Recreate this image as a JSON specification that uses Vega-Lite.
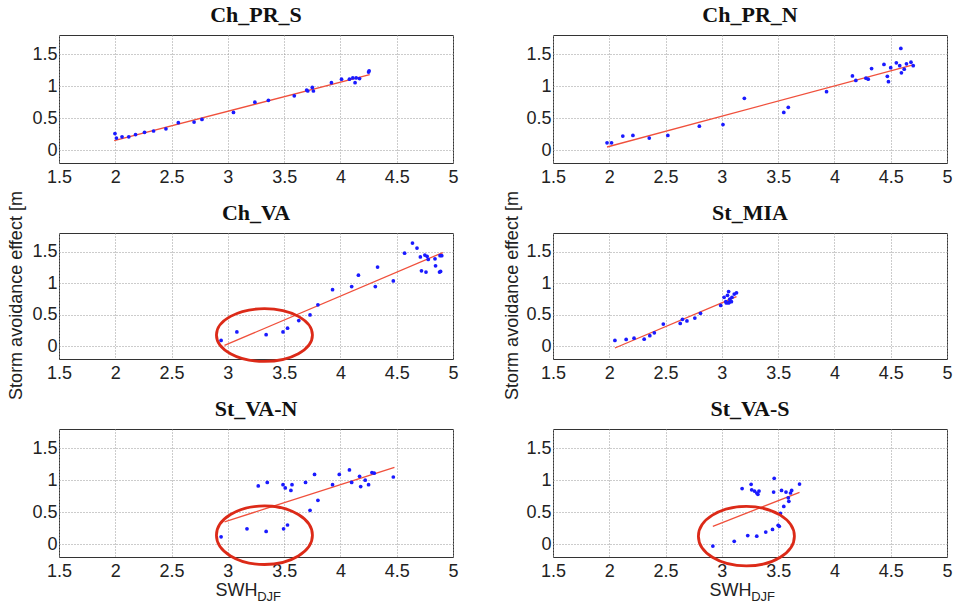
{
 "$schema": "https://vega.github.io/schema/vega-lite/v6.json",
 "background": "white",
 "padding": {"left": 6, "top": 3, "right": 4, "bottom": 2},
 "datasets": {
  "pts": [
   {"panel":"Ch_PR_S","x":1.997,"y":0.26},{"panel":"Ch_PR_S","x":2.01,"y":0.19},{"panel":"Ch_PR_S","x":2.06,"y":0.21},{"panel":"Ch_PR_S","x":2.12,"y":0.21},{"panel":"Ch_PR_S","x":2.18,"y":0.245},{"panel":"Ch_PR_S","x":2.26,"y":0.28},{"panel":"Ch_PR_S","x":2.34,"y":0.3},{"panel":"Ch_PR_S","x":2.45,"y":0.335},{"panel":"Ch_PR_S","x":2.56,"y":0.43},{"panel":"Ch_PR_S","x":2.7,"y":0.44},{"panel":"Ch_PR_S","x":2.77,"y":0.48},{"panel":"Ch_PR_S","x":3.05,"y":0.59},{"panel":"Ch_PR_S","x":3.24,"y":0.75},{"panel":"Ch_PR_S","x":3.36,"y":0.78},{"panel":"Ch_PR_S","x":3.59,"y":0.85},{"panel":"Ch_PR_S","x":3.7,"y":0.94},{"panel":"Ch_PR_S","x":3.71,"y":0.925},{"panel":"Ch_PR_S","x":3.75,"y":0.98},{"panel":"Ch_PR_S","x":3.76,"y":0.925},{"panel":"Ch_PR_S","x":3.92,"y":1.055},{"panel":"Ch_PR_S","x":4.01,"y":1.11},{"panel":"Ch_PR_S","x":4.08,"y":1.11},{"panel":"Ch_PR_S","x":4.11,"y":1.13},{"panel":"Ch_PR_S","x":4.13,"y":1.055},{"panel":"Ch_PR_S","x":4.14,"y":1.13},{"panel":"Ch_PR_S","x":4.17,"y":1.12},{"panel":"Ch_PR_S","x":4.25,"y":1.22},{"panel":"Ch_PR_S","x":4.255,"y":1.24},
   {"panel":"Ch_PR_N","x":1.98,"y":0.115},{"panel":"Ch_PR_N","x":2.02,"y":0.115},{"panel":"Ch_PR_N","x":2.12,"y":0.22},{"panel":"Ch_PR_N","x":2.21,"y":0.23},{"panel":"Ch_PR_N","x":2.355,"y":0.19},{"panel":"Ch_PR_N","x":2.52,"y":0.23},{"panel":"Ch_PR_N","x":2.8,"y":0.375},{"panel":"Ch_PR_N","x":3.01,"y":0.4},{"panel":"Ch_PR_N","x":3.2,"y":0.81},{"panel":"Ch_PR_N","x":3.55,"y":0.59},{"panel":"Ch_PR_N","x":3.59,"y":0.67},{"panel":"Ch_PR_N","x":3.93,"y":0.915},{"panel":"Ch_PR_N","x":4.16,"y":1.16},{"panel":"Ch_PR_N","x":4.19,"y":1.09},{"panel":"Ch_PR_N","x":4.28,"y":1.125},{"panel":"Ch_PR_N","x":4.3,"y":1.11},{"panel":"Ch_PR_N","x":4.33,"y":1.275},{"panel":"Ch_PR_N","x":4.44,"y":1.34},{"panel":"Ch_PR_N","x":4.47,"y":1.155},{"panel":"Ch_PR_N","x":4.48,"y":1.07},{"panel":"Ch_PR_N","x":4.5,"y":1.29},{"panel":"Ch_PR_N","x":4.55,"y":1.365},{"panel":"Ch_PR_N","x":4.58,"y":1.32},{"panel":"Ch_PR_N","x":4.59,"y":1.59},{"panel":"Ch_PR_N","x":4.595,"y":1.21},{"panel":"Ch_PR_N","x":4.62,"y":1.265},{"panel":"Ch_PR_N","x":4.64,"y":1.35},{"panel":"Ch_PR_N","x":4.68,"y":1.375},{"panel":"Ch_PR_N","x":4.7,"y":1.32},
   {"panel":"Ch_VA","x":2.94,"y":0.095},{"panel":"Ch_VA","x":3.08,"y":0.23},{"panel":"Ch_VA","x":3.34,"y":0.185},{"panel":"Ch_VA","x":3.49,"y":0.23},{"panel":"Ch_VA","x":3.53,"y":0.29},{"panel":"Ch_VA","x":3.63,"y":0.41},{"panel":"Ch_VA","x":3.73,"y":0.5},{"panel":"Ch_VA","x":3.8,"y":0.66},{"panel":"Ch_VA","x":3.93,"y":0.9},{"panel":"Ch_VA","x":4.1,"y":0.95},{"panel":"Ch_VA","x":4.16,"y":1.13},{"panel":"Ch_VA","x":4.31,"y":0.95},{"panel":"Ch_VA","x":4.33,"y":1.26},{"panel":"Ch_VA","x":4.47,"y":1.04},{"panel":"Ch_VA","x":4.57,"y":1.48},{"panel":"Ch_VA","x":4.64,"y":1.64},{"panel":"Ch_VA","x":4.68,"y":1.56},{"panel":"Ch_VA","x":4.71,"y":1.42},{"panel":"Ch_VA","x":4.72,"y":1.2},{"panel":"Ch_VA","x":4.75,"y":1.45},{"panel":"Ch_VA","x":4.76,"y":1.18},{"panel":"Ch_VA","x":4.77,"y":1.43},{"panel":"Ch_VA","x":4.78,"y":1.38},{"panel":"Ch_VA","x":4.84,"y":1.39},{"panel":"Ch_VA","x":4.845,"y":1.28},{"panel":"Ch_VA","x":4.88,"y":1.18},{"panel":"Ch_VA","x":4.885,"y":1.44},{"panel":"Ch_VA","x":4.9,"y":1.44},{"panel":"Ch_VA","x":4.89,"y":1.19},
   {"panel":"St_MIA","x":2.05,"y":0.095},{"panel":"St_MIA","x":2.15,"y":0.11},{"panel":"St_MIA","x":2.22,"y":0.13},{"panel":"St_MIA","x":2.31,"y":0.115},{"panel":"St_MIA","x":2.36,"y":0.17},{"panel":"St_MIA","x":2.4,"y":0.215},{"panel":"St_MIA","x":2.48,"y":0.355},{"panel":"St_MIA","x":2.63,"y":0.365},{"panel":"St_MIA","x":2.65,"y":0.43},{"panel":"St_MIA","x":2.69,"y":0.405},{"panel":"St_MIA","x":2.76,"y":0.45},{"panel":"St_MIA","x":2.81,"y":0.525},{"panel":"St_MIA","x":2.99,"y":0.65},{"panel":"St_MIA","x":3.02,"y":0.78},{"panel":"St_MIA","x":3.035,"y":0.71},{"panel":"St_MIA","x":3.04,"y":0.69},{"panel":"St_MIA","x":3.05,"y":0.81},{"panel":"St_MIA","x":3.06,"y":0.87},{"panel":"St_MIA","x":3.065,"y":0.7},{"panel":"St_MIA","x":3.07,"y":0.75},{"panel":"St_MIA","x":3.085,"y":0.71},{"panel":"St_MIA","x":3.09,"y":0.78},{"panel":"St_MIA","x":3.11,"y":0.83},{"panel":"St_MIA","x":3.13,"y":0.85},{"panel":"St_MIA","x":3.06,"y":0.69},
   {"panel":"St_VA-N","x":2.94,"y":0.115},{"panel":"St_VA-N","x":3.17,"y":0.24},{"panel":"St_VA-N","x":3.27,"y":0.91},{"panel":"St_VA-N","x":3.34,"y":0.2},{"panel":"St_VA-N","x":3.35,"y":0.965},{"panel":"St_VA-N","x":3.49,"y":0.93},{"panel":"St_VA-N","x":3.495,"y":0.24},{"panel":"St_VA-N","x":3.51,"y":0.88},{"panel":"St_VA-N","x":3.53,"y":0.3},{"panel":"St_VA-N","x":3.56,"y":0.84},{"panel":"St_VA-N","x":3.57,"y":0.93},{"panel":"St_VA-N","x":3.69,"y":0.965},{"panel":"St_VA-N","x":3.73,"y":0.53},{"panel":"St_VA-N","x":3.77,"y":1.09},{"panel":"St_VA-N","x":3.8,"y":0.685},{"panel":"St_VA-N","x":3.93,"y":0.93},{"panel":"St_VA-N","x":3.99,"y":1.09},{"panel":"St_VA-N","x":4.08,"y":1.16},{"panel":"St_VA-N","x":4.1,"y":0.965},{"panel":"St_VA-N","x":4.17,"y":1.06},{"panel":"St_VA-N","x":4.18,"y":0.9},{"panel":"St_VA-N","x":4.22,"y":1.0},{"panel":"St_VA-N","x":4.25,"y":0.93},{"panel":"St_VA-N","x":4.28,"y":1.12},{"panel":"St_VA-N","x":4.3,"y":1.11},{"panel":"St_VA-N","x":4.47,"y":1.05},
   {"panel":"St_VA-S","x":2.92,"y":-0.03},{"panel":"St_VA-S","x":3.11,"y":0.045},{"panel":"St_VA-S","x":3.18,"y":0.87},{"panel":"St_VA-S","x":3.23,"y":0.135},{"panel":"St_VA-S","x":3.26,"y":0.935},{"panel":"St_VA-S","x":3.265,"y":0.85},{"panel":"St_VA-S","x":3.29,"y":0.83},{"panel":"St_VA-S","x":3.31,"y":0.125},{"panel":"St_VA-S","x":3.31,"y":0.8},{"panel":"St_VA-S","x":3.33,"y":0.83},{"panel":"St_VA-S","x":3.32,"y":0.78},{"panel":"St_VA-S","x":3.39,"y":0.19},{"panel":"St_VA-S","x":3.45,"y":0.23},{"panel":"St_VA-S","x":3.46,"y":0.815},{"panel":"St_VA-S","x":3.465,"y":1.03},{"panel":"St_VA-S","x":3.5,"y":0.295},{"panel":"St_VA-S","x":3.51,"y":0.28},{"panel":"St_VA-S","x":3.52,"y":0.48},{"panel":"St_VA-S","x":3.53,"y":0.84},{"panel":"St_VA-S","x":3.55,"y":0.59},{"panel":"St_VA-S","x":3.57,"y":0.815},{"panel":"St_VA-S","x":3.59,"y":0.725},{"panel":"St_VA-S","x":3.595,"y":0.67},{"panel":"St_VA-S","x":3.61,"y":0.8},{"panel":"St_VA-S","x":3.62,"y":0.84},{"panel":"St_VA-S","x":3.69,"y":0.94}
  ],
  "fit": [
   {"panel":"Ch_PR_S","x":1.99,"y":0.15},{"panel":"Ch_PR_S","x":4.26,"y":1.18},
   {"panel":"Ch_PR_N","x":1.98,"y":0.05},{"panel":"Ch_PR_N","x":4.69,"y":1.33},
   {"panel":"Ch_VA","x":2.97,"y":0.015},{"panel":"Ch_VA","x":4.91,"y":1.49},
   {"panel":"St_MIA","x":2.05,"y":-0.025},{"panel":"St_MIA","x":3.13,"y":0.79},
   {"panel":"St_VA-N","x":2.97,"y":0.35},{"panel":"St_VA-N","x":4.48,"y":1.2},
   {"panel":"St_VA-S","x":2.92,"y":0.28},{"panel":"St_VA-S","x":3.69,"y":0.81}
  ],
  "ell": [
   {"panel":"Ch_VA","x":3.325,"y":0.18},
   {"panel":"St_VA-N","x":3.325,"y":0.14},
   {"panel":"St_VA-S","x":3.218,"y":0.125}
  ]
 },
 "columns": 2,
 "spacing": {"row": 70, "column": 100},
 "bounds": "flush",
 "concat": [
  {"width":394,"height":128,"title":"Ch_PR_S","layer":[
   {"data":{"name":"fit"},"transform":[{"filter":"datum.panel==='Ch_PR_S'"}],"mark":{"type":"line","color":"#f0503c","strokeWidth":1.3},
    "encoding":{"x":{"field":"x","type":"quantitative","scale":{"domain":[1.5,5],"nice":false,"zero":false},"axis":{"values":[1.5,2,2.5,3,3.5,4,4.5,5],"format":"~g","title":null}},
                "y":{"field":"y","type":"quantitative","scale":{"domain":[-0.2,1.8],"nice":false,"zero":false},"axis":{"values":[0,0.5,1,1.5],"format":"~g","title":"Storm avoidance effect [m","titleX":-38,"titleY":260,"titleAlign":"center","titleBaseline":"alphabetic","titleAngle":-90}}}},
   {"data":{"name":"pts"},"transform":[{"filter":"datum.panel==='Ch_PR_S'"}],"mark":{"type":"point","filled":true,"size":14,"color":"#1a1aff","opacity":1},
    "encoding":{"x":{"field":"x","type":"quantitative"},"y":{"field":"y","type":"quantitative"}}}
  ]},
  {"width":394,"height":128,"title":"Ch_PR_N","layer":[
   {"data":{"name":"fit"},"transform":[{"filter":"datum.panel==='Ch_PR_N'"}],"mark":{"type":"line","color":"#f0503c","strokeWidth":1.3},
    "encoding":{"x":{"field":"x","type":"quantitative","scale":{"domain":[1.5,5],"nice":false,"zero":false},"axis":{"values":[1.5,2,2.5,3,3.5,4,4.5,5],"format":"~g","title":null}},
                "y":{"field":"y","type":"quantitative","scale":{"domain":[-0.2,1.8],"nice":false,"zero":false},"axis":{"values":[0,0.5,1,1.5],"format":"~g","title":"Storm avoidance effect [m","titleX":-36,"titleY":260,"titleAlign":"center","titleBaseline":"alphabetic","titleAngle":-90}}}},
   {"data":{"name":"pts"},"transform":[{"filter":"datum.panel==='Ch_PR_N'"}],"mark":{"type":"point","filled":true,"size":14,"color":"#1a1aff","opacity":1},
    "encoding":{"x":{"field":"x","type":"quantitative"},"y":{"field":"y","type":"quantitative"}}}
  ]},
  {"width":394,"height":126,"title":"Ch_VA","layer":[
   {"data":{"name":"fit"},"transform":[{"filter":"datum.panel==='Ch_VA'"}],"mark":{"type":"line","color":"#f0503c","strokeWidth":1.3},
    "encoding":{"x":{"field":"x","type":"quantitative","scale":{"domain":[1.5,5],"nice":false,"zero":false},"axis":{"values":[1.5,2,2.5,3,3.5,4,4.5,5],"format":"~g","title":null}},
                "y":{"field":"y","type":"quantitative","scale":{"domain":[-0.2,1.8],"nice":false,"zero":false},"axis":{"values":[0,0.5,1,1.5],"format":"~g","title":null}}}},
   {"data":{"name":"pts"},"transform":[{"filter":"datum.panel==='Ch_VA'"}],"mark":{"type":"point","filled":true,"size":14,"color":"#1a1aff","opacity":1},
    "encoding":{"x":{"field":"x","type":"quantitative"},"y":{"field":"y","type":"quantitative"}}},
   {"data":{"name":"ell"},"transform":[{"filter":"datum.panel==='Ch_VA'"}],"mark":{"type":"point","shape":"M -1 0 A 1 0.55 0 1 0 1 0 A 1 0.55 0 1 0 -1 0","size":9216,"filled":false,"stroke":"#dc2a18","strokeWidth":2.8,"opacity":1,"clip":false},
    "encoding":{"x":{"field":"x","type":"quantitative"},"y":{"field":"y","type":"quantitative"}}}
  ]},
  {"width":394,"height":126,"title":"St_MIA","layer":[
   {"data":{"name":"fit"},"transform":[{"filter":"datum.panel==='St_MIA'"}],"mark":{"type":"line","color":"#f0503c","strokeWidth":1.3},
    "encoding":{"x":{"field":"x","type":"quantitative","scale":{"domain":[1.5,5],"nice":false,"zero":false},"axis":{"values":[1.5,2,2.5,3,3.5,4,4.5,5],"format":"~g","title":null}},
                "y":{"field":"y","type":"quantitative","scale":{"domain":[-0.2,1.8],"nice":false,"zero":false},"axis":{"values":[0,0.5,1,1.5],"format":"~g","title":null}}}},
   {"data":{"name":"pts"},"transform":[{"filter":"datum.panel==='St_MIA'"}],"mark":{"type":"point","filled":true,"size":14,"color":"#1a1aff","opacity":1},
    "encoding":{"x":{"field":"x","type":"quantitative"},"y":{"field":"y","type":"quantitative"}}}
  ]},
  {"width":394,"height":128,"title":"St_VA-N","layer":[
   {"data":{"name":"fit"},"transform":[{"filter":"datum.panel==='St_VA-N'"}],"mark":{"type":"line","color":"#f0503c","strokeWidth":1.3},
    "encoding":{"x":{"field":"x","type":"quantitative","scale":{"domain":[1.5,5],"nice":false,"zero":false},"axis":{"values":[1.5,2,2.5,3,3.5,4,4.5,5],"format":"~g","title":"SWH","titleX":177,"titleAlign":"center","titlePadding":1}},
                "y":{"field":"y","type":"quantitative","scale":{"domain":[-0.2,1.8],"nice":false,"zero":false},"axis":{"values":[0,0.5,1,1.5],"format":"~g","title":null}}}},
   {"data":{"name":"pts"},"transform":[{"filter":"datum.panel==='St_VA-N'"}],"mark":{"type":"point","filled":true,"size":14,"color":"#1a1aff","opacity":1},
    "encoding":{"x":{"field":"x","type":"quantitative"},"y":{"field":"y","type":"quantitative"}}},
   {"data":{"name":"ell"},"transform":[{"filter":"datum.panel==='St_VA-N'"}],"mark":{"type":"point","shape":"M -1 0 A 1 0.61 0 1 0 1 0 A 1 0.61 0 1 0 -1 0","size":9216,"filled":false,"stroke":"#dc2a18","strokeWidth":2.8,"opacity":1,"clip":false},
    "encoding":{"x":{"field":"x","type":"quantitative"},"y":{"field":"y","type":"quantitative"}}},
   {"data":{"values":[{"t":"DJF"}]},"mark":{"type":"text","font":"Liberation Sans","fontSize":13,"align":"left","baseline":"middle","color":"#222"},
    "encoding":{"x":{"datum":3.26,"type":"quantitative"},"y":{"datum":-0.82,"type":"quantitative"},"text":{"field":"t"}}}
  ]},
  {"width":394,"height":128,"title":"St_VA-S","layer":[
   {"data":{"name":"fit"},"transform":[{"filter":"datum.panel==='St_VA-S'"}],"mark":{"type":"line","color":"#f0503c","strokeWidth":1.3},
    "encoding":{"x":{"field":"x","type":"quantitative","scale":{"domain":[1.5,5],"nice":false,"zero":false},"axis":{"values":[1.5,2,2.5,3,3.5,4,4.5,5],"format":"~g","title":"SWH","titleX":177,"titleAlign":"center","titlePadding":1}},
                "y":{"field":"y","type":"quantitative","scale":{"domain":[-0.2,1.8],"nice":false,"zero":false},"axis":{"values":[0,0.5,1,1.5],"format":"~g","title":null}}}},
   {"data":{"name":"pts"},"transform":[{"filter":"datum.panel==='St_VA-S'"}],"mark":{"type":"point","filled":true,"size":14,"color":"#1a1aff","opacity":1},
    "encoding":{"x":{"field":"x","type":"quantitative"},"y":{"field":"y","type":"quantitative"}}},
   {"data":{"name":"ell"},"transform":[{"filter":"datum.panel==='St_VA-S'"}],"mark":{"type":"point","shape":"M -1 0 A 1 0.62 0 1 0 1 0 A 1 0.62 0 1 0 -1 0","size":9216,"filled":false,"stroke":"#dc2a18","strokeWidth":2.8,"opacity":1,"clip":false},
    "encoding":{"x":{"field":"x","type":"quantitative"},"y":{"field":"y","type":"quantitative"}}},
   {"data":{"values":[{"t":"DJF"}]},"mark":{"type":"text","font":"Liberation Sans","fontSize":13,"align":"left","baseline":"middle","color":"#222"},
    "encoding":{"x":{"datum":3.26,"type":"quantitative"},"y":{"datum":-0.82,"type":"quantitative"},"text":{"field":"t"}}}
  ]}
 ],
 "config": {
  "view": {"stroke": "#333", "strokeWidth": 1},
  "axis": {"grid": true, "gridDash": [1, 2], "gridColor": "#999", "gridWidth": 1, "domain": false, "ticks": false,
           "labelFont": "Liberation Sans", "labelFontSize": 18, "labelColor": "#222", "labelFlush": false,
           "titleFont": "Liberation Sans", "titleFontSize": 18, "titleFontWeight": "normal", "titleColor": "#222"},
  "axisX": {"labelPadding": 5},
  "axisY": {"labelPadding": 2, "titlePadding": 12},
  "title": {"font": "Liberation Serif", "fontSize": 22, "fontWeight": "bold", "color": "#111", "offset": 8}
 }
}
